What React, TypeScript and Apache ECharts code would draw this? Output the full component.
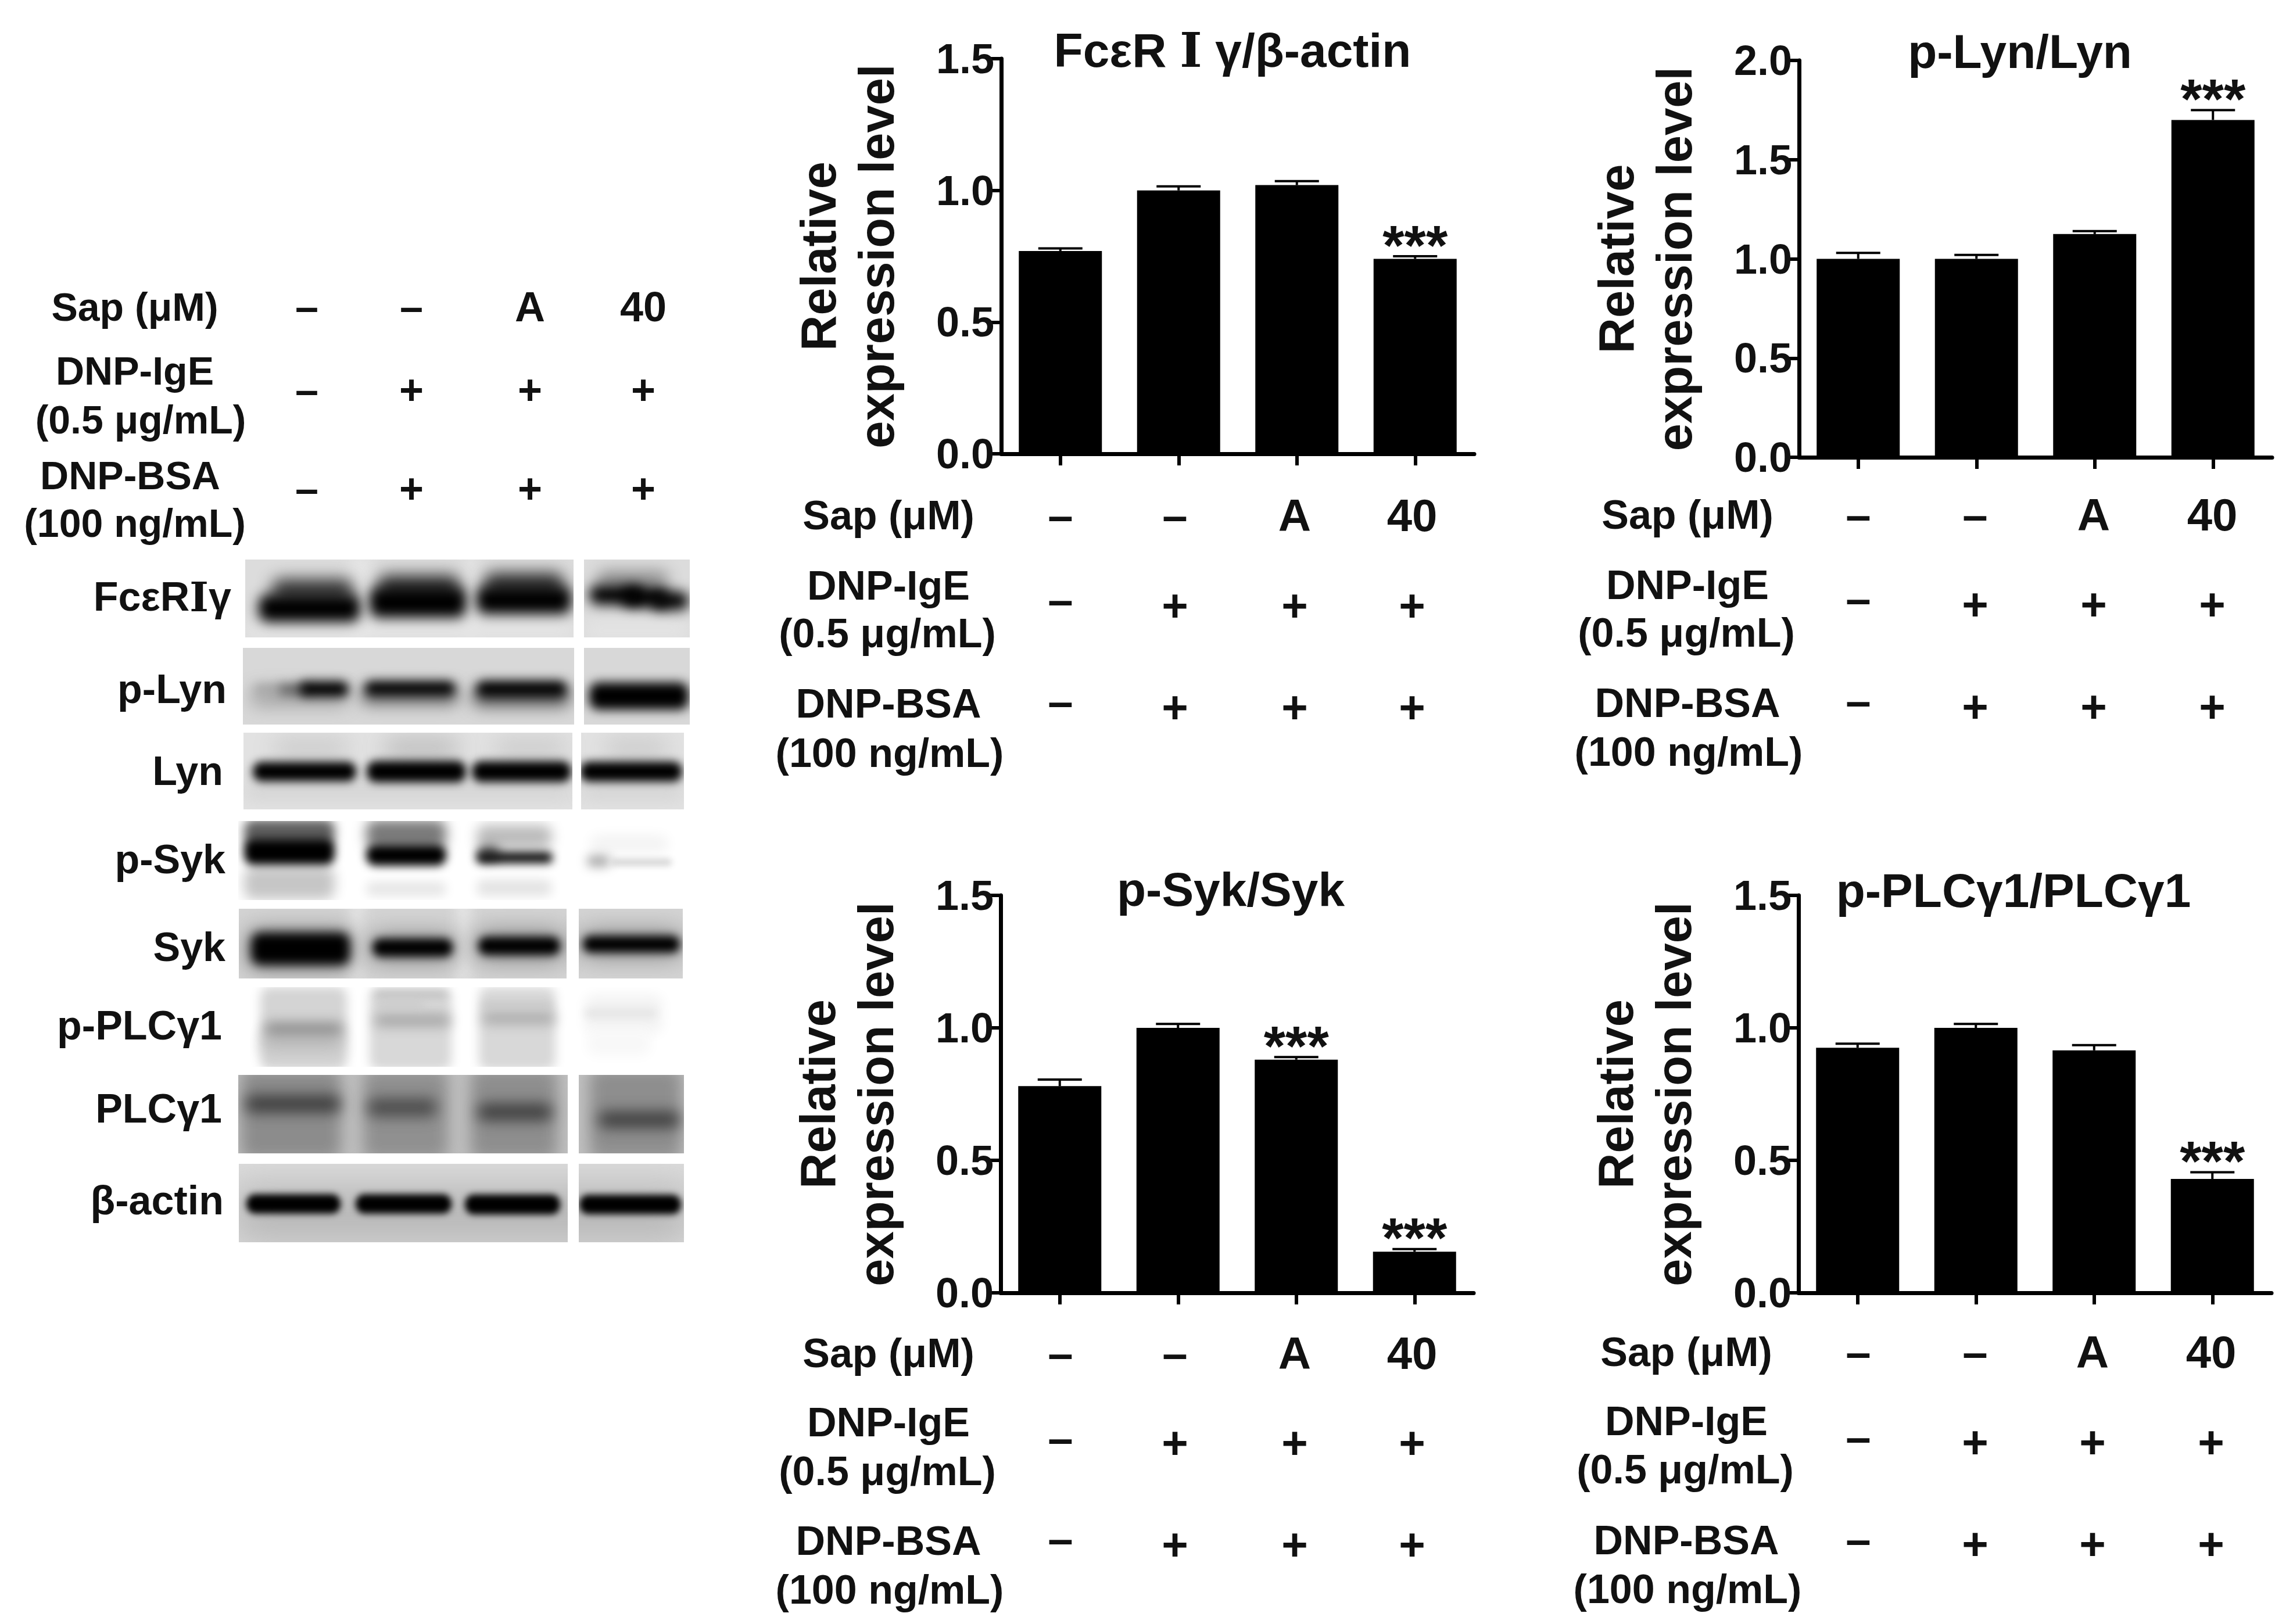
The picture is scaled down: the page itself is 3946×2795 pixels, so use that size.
import React, { useEffect, useRef } from "react";
import * as echarts from "echarts";

const FONT = '"Liberation Sans", Arial, sans-serif';
const SERIF_I = '"DejaVu Serif", "Liberation Serif", serif';
const lanes = ["lane1", "lane2", "lane3", "lane4"];
const sapRow = ["–", "–", "A", "40"];
const igeRow = ["–", "+", "+", "+"];
const bsaRow = ["–", "+", "+", "+"];

const fcerValues = [0.77, 1.0, 1.02, 0.74];
const fcerErrors = [0.78, 1.015, 1.035, 0.75];
const fcerStars = [0, 0, 0, 1];
const lynValues = [1.0, 1.0, 1.125, 1.7];
const lynErrors = [1.03, 1.02, 1.14, 1.75];
const lynStars = [0, 0, 0, 1];
const sykValues = [0.78, 1.0, 0.88, 0.155];
const sykErrors = [0.805, 1.015, 0.89, 0.165];
const sykStars = [0, 0, 1, 1];
const plcValues = [0.925, 1.0, 0.915, 0.43];
const plcErrors = [0.94, 1.015, 0.935, 0.455];
const plcStars = [0, 0, 0, 1];

const panels = [
  { title: "FcεR {r|Ⅰ} γ/β-actin", tx: 2121, ty: 86, left: 1723, right: 2537, top: 101, bottom: 781, max: 1.5, values: fcerValues, errors: fcerErrors, stars: fcerStars,
    labelX: 1529, signX: [1825, 2022, 2228, 2430], rowY: [887, 1008, 1090, 1211, 1296], signY: [887, 1032, 1042, 1207, 1217] },
  { title: "p-Lyn/Lyn", tx: 3476, ty: 88, left: 3096, right: 3910, top: 104, bottom: 787, max: 2.0, values: lynValues, errors: lynErrors, stars: lynStars,
    labelX: 2904, signX: [3198, 3399, 3603, 3807], rowY: [886, 1007, 1089, 1210, 1294], signY: [886, 1030, 1040, 1206, 1216] },
  { title: "p-Syk/Syk", tx: 2118, ty: 1530, left: 1722, right: 2536, top: 1541, bottom: 2225, max: 1.5, values: sykValues, errors: sykErrors, stars: sykStars,
    labelX: 1529, signX: [1825, 2022, 2228, 2430], rowY: [2329, 2448, 2532, 2652, 2736], signY: [2329, 2475, 2483, 2648, 2658] },
  { title: "p-PLCγ1/PLCγ1", tx: 3465, ty: 1532, left: 3095, right: 3909, top: 1541, bottom: 2225, max: 1.5, values: plcValues, errors: plcErrors, stars: plcStars,
    labelX: 2902, signX: [3198, 3399, 3601, 3805], rowY: [2327, 2446, 2529, 2651, 2735], signY: [2327, 2473, 2482, 2649, 2657] },
];

const rowLabels = ["Sap (μM)", "DNP-IgE", "(0.5 μg/mL)", "DNP-BSA", "(100 ng/mL)"];

const blotLabels = ["FcεR{r|Ⅰ}γ", "p-Lyn", "Lyn", "p-Syk", "Syk", "p-PLCγ1", "PLCγ1", "β-actin"];
const blotLabelRight = [398, 390, 384, 388, 388, 382, 382, 385];
const blotLabelY = [1027, 1186, 1327, 1479, 1630, 1765, 1908, 2066];

type Blob = [number, number, number, number, string, number];
type BlotRow = { panels: number[][]; y: number[]; bg: string; blobs: Blob[] };

const blotRows: BlotRow[] = [
  { panels: [[422, 987], [1005, 1187]], y: [963, 1097], bg: "#dcdcdc", blobs: [
    [600, 640, 1030, 134, "#e6e6e6", 8], [800, 820, 1030, 134, "#e6e6e6", 8],
    [420, 990, 1085, 26, "#e6e6e6", 10], [1005, 1187, 1085, 26, "#e6e6e6", 10],
    [468, 608, 1016, 36, "#3e3e3e", 9], [650, 791, 1010, 38, "#3a3a3a", 9], [833, 970, 1006, 38, "#3a3a3a", 9], [1028, 1150, 997, 24, "#8a8a8a", 9],
    [445, 620, 1047, 42, "#000", 7], [636, 802, 1037, 46, "#000", 7], [820, 983, 1033, 42, "#000", 7],
    [1014, 1110, 1024, 30, "#000", 7], [1070, 1150, 1028, 30, "#000", 7], [1120, 1185, 1034, 28, "#000", 7],
  ] },
  { panels: [[418, 988], [1005, 1187]], y: [1115, 1247], bg: "#d8d8d8", blobs: [
    [430, 600, 1200, 30, "#a8a8a8", 10], [620, 790, 1197, 30, "#777", 9], [812, 982, 1199, 32, "#666", 9],
    [438, 490, 1186, 12, "#a0a0a0", 6], [480, 530, 1187, 18, "#666", 6],
    [515, 600, 1186, 24, "#000", 6], [628, 783, 1185, 22, "#000", 6], [820, 975, 1186, 24, "#000", 6],
    [1014, 1185, 1198, 42, "#000", 6],
  ] },
  { panels: [[419, 985], [1000, 1177]], y: [1261, 1393], bg: "#e2e2e2", blobs: [
    [470, 600, 1288, 28, "#c8c8c8", 13], [660, 790, 1288, 32, "#bcbcbc", 13], [850, 975, 1288, 28, "#c8c8c8", 13], [1040, 1150, 1288, 28, "#c8c8c8", 13],
    [420, 985, 1360, 22, "#cfcfcf", 11], [1000, 1177, 1360, 22, "#cfcfcf", 11],
    [435, 613, 1328, 30, "#000", 5], [631, 802, 1328, 33, "#000", 5], [812, 983, 1328, 32, "#000", 5], [998, 1174, 1328, 31, "#000", 5],
  ] },
  { panels: [[410, 1190]], y: [1413, 1549], bg: "#ffffff", blobs: [
    [420, 576, 1433, 40, "#5f5f5f", 6], [420, 576, 1520, 50, "#c6c6c6", 7], [630, 768, 1436, 44, "#7a7a7a", 7], [630, 768, 1530, 22, "#e6e6e6", 6],
    [820, 950, 1440, 36, "#bcbcbc", 7], [820, 950, 1528, 26, "#e4e4e4", 6], [1015, 1150, 1452, 26, "#f3f3f3", 7],
    [420, 576, 1466, 40, "#000", 5], [630, 768, 1472, 32, "#000", 5], [822, 860, 1468, 24, "#666", 6], [820, 951, 1476, 18, "#111", 5], [1010, 1050, 1482, 18, "#aaa", 6], [1050, 1156, 1484, 10, "#d0d0d0", 4],
  ] },
  { panels: [[411, 975], [996, 1175]], y: [1564, 1684], bg: "#d4d4d4", blobs: [
    [606, 622, 1620, 130, "#f0f0f0", 8], [790, 806, 1620, 130, "#f0f0f0", 8],
    [425, 608, 1634, 64, "#8e8e8e", 14], [636, 785, 1632, 44, "#8e8e8e", 14], [818, 970, 1628, 48, "#8e8e8e", 14], [1000, 1174, 1625, 42, "#8e8e8e", 14],
    [432, 602, 1633, 50, "#000", 6], [641, 779, 1631, 28, "#000", 5], [823, 964, 1628, 28, "#000", 5], [1003, 1170, 1625, 26, "#000", 5],
  ] },
  { panels: [[430, 1160]], y: [1699, 1836], bg: "#ffffff", blobs: [
    [448, 597, 1770, 128, "#d4d4d4", 6], [636, 777, 1770, 128, "#d8d8d8", 6], [824, 956, 1770, 128, "#d8d8d8", 6], [1006, 1140, 1745, 60, "#f3f3f3", 7], [1010, 1120, 1795, 40, "#f8f8f8", 7],
    [450, 590, 1795, 26, "#bcbcbc", 9], [455, 590, 1771, 20, "#8e8e8e", 7], [645, 775, 1756, 17, "#a0a0a0", 7], [830, 955, 1752, 17, "#a6a6a6", 7], [1006, 1130, 1744, 9, "#dedede", 5],
    [645, 770, 1712, 9, "#bcbcbc", 5], [650, 730, 1730, 9, "#c8c8c8", 5], [830, 950, 1730, 9, "#c6c6c6", 5],
  ] },
  { panels: [[410, 977], [996, 1177]], y: [1850, 1985], bg: "#c0c0c0", blobs: [
    [415, 587, 1917, 140, "#8c8c8c", 9], [625, 771, 1917, 140, "#909090", 9], [810, 959, 1917, 140, "#8e8e8e", 9], [1015, 1173, 1917, 140, "#8e8e8e", 9],
    [422, 586, 1900, 26, "#3c3c3c", 8], [632, 752, 1906, 28, "#4c4c4c", 8], [822, 950, 1914, 26, "#3e3e3e", 8], [1030, 1170, 1927, 24, "#3c3c3c", 8],
  ] },
  { panels: [[411, 977], [996, 1177]], y: [2003, 2138], bg: "#dcdcdc", blobs: [
    [400, 1190, 2090, 90, "#b8b8b8", 22],
    [424, 586, 2072, 30, "#000", 4], [612, 777, 2072, 30, "#000", 4], [800, 964, 2073, 31, "#000", 4], [997, 1172, 2073, 30, "#000", 4],
  ] },
];

function blotImage(): string {
  const cv = document.createElement("canvas");
  cv.width = 820;
  cv.height = 1220;
  const X = 400;
  const Y = 950;
  const FAR = 4000;
  const ctx = cv.getContext("2d")!;
  ctx.fillStyle = "#fff";
  ctx.fillRect(0, 0, cv.width, cv.height);
  for (const row of blotRows) {
    ctx.save();
    ctx.beginPath();
    for (const p of row.panels) ctx.rect(p[0] - X, row.y[0] - Y, p[1] - p[0], row.y[1] - row.y[0]);
    ctx.clip();
    ctx.fillStyle = row.bg;
    ctx.fillRect(0, 0, cv.width, cv.height);
    for (const b of row.blobs) {
      const [x0, x1, yc, rawH, c, blur] = b;
      const h = rawH * 1.12;
      // The shape sits off the canvas, so only its blurred shadow lands on it.
      ctx.shadowColor = c;
      ctx.shadowBlur = blur * 3;
      ctx.shadowOffsetX = FAR;
      ctx.shadowOffsetY = 0;
      ctx.fillStyle = "#000";
      ctx.beginPath();
      ctx.roundRect(x0 - X - FAR, yc - h / 2 - Y, x1 - x0, h, Math.min(h / 2.2, 16));
      ctx.fill();
    }
    ctx.restore();
  }
  return cv.toDataURL("image/png");
}

function text(t: string, x: number, y: number, size: number, align = "center") {
  return {
    type: "text",
    x,
    y,
    style: {
      text: t,
      fill: "#111",
      font: `bold ${size}px ${FONT}`,
      textAlign: align,
      textVerticalAlign: "middle",
      rich: { r: { font: `bold ${size}px ${SERIF_I}`, fill: "#111" } },
    },
  };
}

function buildGraphics() {
  const g: any[] = [];
  g.push({ type: "image", x: 400, y: 950, style: { image: blotImage(), x: 0, y: 0, width: 820, height: 1220 } });
  const hdrX = [528, 708, 912, 1107];
  g.push(text("Sap (μM)", 232, 528, 68));
  g.push(text("DNP-IgE", 232, 638, 68));
  g.push(text("(0.5 μg/mL)", 242, 722, 68));
  g.push(text("DNP-BSA", 224, 818, 68));
  g.push(text("(100 ng/mL)", 232, 900, 68));
  lanes.forEach((_, i) => {
    g.push(text(sapRow[i], hdrX[i], 528, 72));
    g.push(text(igeRow[i], hdrX[i], 671, 72));
    g.push(text(bsaRow[i], hdrX[i], 841, 72));
  });
  blotLabels.forEach((l, i) => g.push(text(l, blotLabelRight[i], blotLabelY[i], 70, "right")));
  for (const p of panels) {
    const lx = [p.labelX, p.labelX, p.labelX - 2, p.labelX, p.labelX + 2];
    rowLabels.forEach((l, i) => g.push(text(l, lx[i], p.rowY[i], 70)));
    lanes.forEach((_, i) => {
      g.push(text(sapRow[i], p.signX[i], p.signY[0], 78));
      g.push(text(igeRow[i], p.signX[i], igeRow[i] === "+" ? p.signY[2] : p.signY[1], 78));
      g.push(text(bsaRow[i], p.signX[i], bsaRow[i] === "+" ? p.signY[4] : p.signY[3], 78));
    });
  }
  return g;
}

function buildOption() {
  const W = 3946;
  const H = 2795;
  const axisStyle = { lineStyle: { color: "#000", width: 7 } };
  const tickStyle = { lineStyle: { color: "#000", width: 6 } };
  return {
    animation: false,
    backgroundColor: "#fff",
    title: panels.map((p) => ({
      text: p.title,
      left: p.tx,
      top: p.ty,
      textAlign: "center",
      textVerticalAlign: "middle",
      padding: 0,
      textStyle: {
        fontFamily: FONT,
        fontWeight: "bold",
        fontSize: 82,
        color: "#111",
        rich: { r: { fontFamily: SERIF_I, fontWeight: "bold", fontSize: 82, color: "#111" } },
      },
    })),
    grid: panels.map((p) => ({ left: p.left, right: W - p.right, top: p.top, bottom: H - p.bottom, containLabel: false })),
    xAxis: panels.map((_, i) => ({
      type: "category",
      gridIndex: i,
      data: lanes,
      axisLine: { show: true, ...axisStyle },
      axisTick: { show: true, alignWithLabel: true, length: 20, ...tickStyle },
      axisLabel: { show: false },
    })),
    yAxis: panels.map((p, i) => ({
      type: "value",
      gridIndex: i,
      min: 0,
      max: p.max,
      interval: 0.5,
      splitLine: { show: false },
      axisLine: { show: true, ...axisStyle },
      axisTick: { show: true, length: 22, ...tickStyle },
      axisLabel: { margin: 12, fontFamily: FONT, fontWeight: "bold", fontSize: 72, color: "#111", formatter: (v: number) => v.toFixed(1) },
      name: "Relative\nexpression level",
      nameLocation: "middle",
      nameGap: 165,
      nameTextStyle: { fontFamily: FONT, fontWeight: "bold", fontSize: 85, lineHeight: 100, color: "#111" },
    })),
    series: panels.flatMap((p, i) => [
      {
        type: "bar",
        xAxisIndex: i,
        yAxisIndex: i,
        data: p.values,
        barWidth: 143,
        itemStyle: { color: "#000" },
        silent: true,
      },
      {
        type: "custom",
        xAxisIndex: i,
        yAxisIndex: i,
        silent: true,
        encode: { x: 0, y: 1 },
        data: p.errors.map((e, k) => [k, e, p.values[k], p.stars[k]]),
        renderItem: (_: any, api: any) => {
          const top = api.coord([api.value(0), api.value(1)]);
          const base = api.coord([api.value(0), api.value(2)]);
          const lineStyle = { stroke: "#000", lineWidth: 4 };
          const children: any[] = [
            { type: "line", shape: { x1: top[0], y1: top[1], x2: base[0], y2: base[1] }, style: lineStyle },
            { type: "line", shape: { x1: top[0] - 38, y1: top[1], x2: top[0] + 38, y2: top[1] }, style: lineStyle },
          ];
          if (api.value(3)) {
            children.push({
              type: "text",
              style: { text: "***", x: top[0], y: top[1] - 20, fill: "#111", font: `bold 96px ${FONT}`, textAlign: "center", textVerticalAlign: "middle" },
            });
          }
          return { type: "group", children };
        },
      },
    ]),
    graphic: { elements: buildGraphics() },
  };
}

export default function App() {
  const ref = useRef<HTMLDivElement>(null);
  useEffect(() => {
    const chart = echarts.init(ref.current!, undefined, { renderer: "svg" });
    chart.setOption(buildOption() as any);
    return () => chart.dispose();
  }, []);
  return <div ref={ref} style={{ position: "absolute", left: 0, top: 0, width: 3946, height: 2795 }} />;
}
